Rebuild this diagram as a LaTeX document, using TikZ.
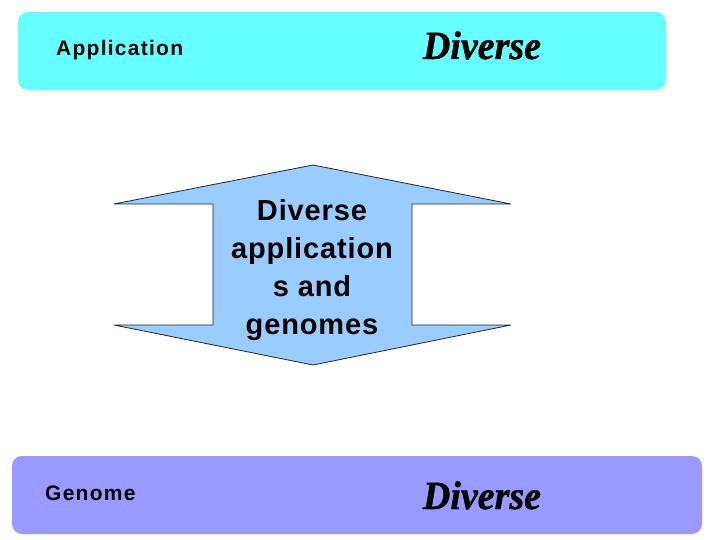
\documentclass[tikz,border=0pt]{standalone}
\usepackage{fontspec}
\setmainfont{Liberation Sans}
\newfontfamily\divfont[FakeStretch=0.95,FakeBold=1]{Liberation Serif}
\definecolor{topcyan}{HTML}{66FFFF}
\definecolor{botblue}{HTML}{9999FF}
\definecolor{arrowblue}{HTML}{99CCFF}
\tikzset{
  band/.style={rounded corners=10pt, draw=none},
  lbl/.style={anchor=base west, inner sep=0pt, font=\bfseries\addfontfeature{LetterSpace=6}\fontsize{21}{24}\selectfont},
  divtext/.style={anchor=base, inner sep=0pt, font=\divfont\bfseries\itshape\fontsize{40}{42}\selectfont},
  arrowtext/.style={align=center, inner sep=0pt, font=\bfseries\addfontfeature{LetterSpace=3}\fontsize{29}{38}\selectfont}
}
\begin{document}
\begin{tikzpicture}[x=1pt,y=-1pt]
\useasboundingbox (0,0) rectangle (720,540);
% bands
\fill[band, topcyan] (18,12) rectangle (666,90);
\fill[band, botblue] (12,456) rectangle (702,534);
\node[lbl] (app) at (56,56) {Application};
\node[lbl] (gen) at (45,500) {Genome};
\node[divtext] (d1) at (482,59) {Diverse};
\node[divtext] (d2) at (482,509) {Diverse};
% double arrow
\coordinate (tp) at (313,165);
\coordinate (bp) at (313,365);
\draw[fill=arrowblue, draw=black!85, line width=0.8pt, line join=miter]
  (tp) -- (511,204) -- (412,204) -- (412,325) -- (511,325) -- (bp)
  -- (114,325) -- (213,325) -- (213,204) -- (114,204) -- cycle;
\node[arrowtext] (mid) at (312,270) {Diverse\\application\\s and\\genomes};
\end{tikzpicture}
\end{document}
